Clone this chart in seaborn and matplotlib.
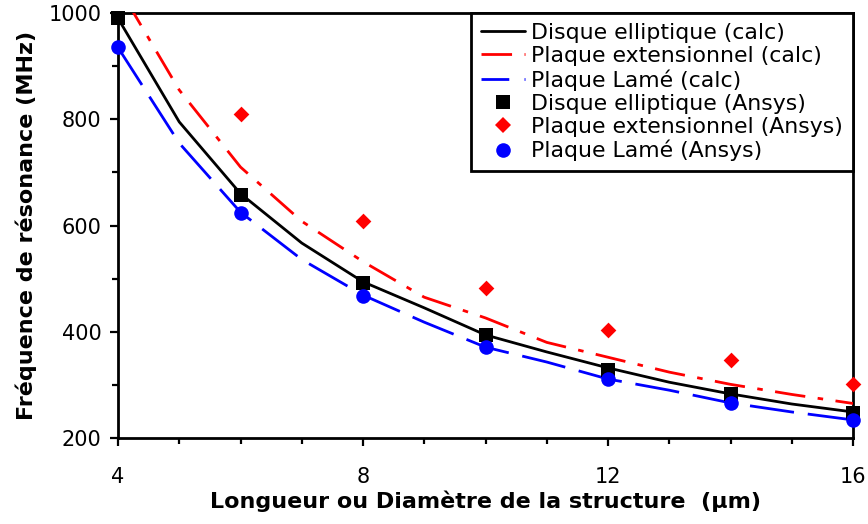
import matplotlib
matplotlib.use("Agg")
import matplotlib.pyplot as plt
from matplotlib.lines import Line2D
from matplotlib.ticker import MultipleLocator, FixedLocator
import seaborn as sns
import numpy as np

# ---- data ----
x_calc = [4, 5, 6, 7, 8, 9, 10, 11, 12, 13, 14, 15, 16]
disque_calc = [990, 795, 660, 567, 494, 445, 394, 362, 332, 305, 283, 264, 249]
plaque_ext_calc = [1050, 855, 710, 608, 532, 465, 426, 380, 352, 324, 301, 282, 265]
plaque_lame_calc = [935, 755, 625, 536, 469, 418, 371, 343, 311, 290, 266, 249, 234]

x_ansys = [4, 6, 8, 10, 12, 14, 16]
disque_ansys = [990, 657, 492, 394, 328, 283, 247]
plaque_ext_ansys = [None, 810, 608, 482, 403, 347, 302]
plaque_lame_ansys = [936, 623, 467, 371, 311, 266, 234]

labels = ["Disque elliptique (calc)", "Plaque extensionnel (calc)", "Plaque Lamé (calc)",
          "Disque elliptique (Ansys)", "Plaque extensionnel (Ansys)", "Plaque Lamé (Ansys)"]
xlabel = "Longueur ou Diamètre de la structure  (µm)"
ylabel = "Fréquence de résonance (MHz)"
x_major = [4, 8, 12, 16]
y_major = [200, 400, 600, 800, 1000]

sns.set_theme(style="white")
plt.rcParams["font.family"] = ["DejaVu Sans"]

fig = plt.figure(figsize=(8.68, 5.24), dpi=100)
ax = fig.add_axes([118 / 868, 1 - 438 / 524, (853 - 118) / 868, (438 - 13) / 524])

BLACK, RED, BLUE = "#000000", "#FF0000", "#0000FF"
LW = 2.0
ls_red = (0, (11, 4.5, 2, 4.5))
ls_blue = (0, (16, 5))
ls_blue_leg = (0, (10, 5.5))

sns.lineplot(x=x_calc, y=disque_calc, color=BLACK, lw=LW, linestyle="-", ax=ax, zorder=3)
sns.lineplot(x=x_calc, y=plaque_ext_calc, color=RED, lw=LW, linestyle=ls_red, ax=ax, zorder=3)
sns.lineplot(x=x_calc, y=plaque_lame_calc, color=BLUE, lw=LW, linestyle=ls_blue, ax=ax, zorder=3)

xe = [x for x, v in zip(x_ansys, plaque_ext_ansys) if v is not None]
ye = [v for v in plaque_ext_ansys if v is not None]
sns.scatterplot(x=x_ansys, y=disque_ansys, marker="s", s=100, color=BLACK, edgecolor=BLACK,
                linewidth=0, ax=ax, zorder=4, clip_on=False)
sns.scatterplot(x=xe, y=ye, marker="D", s=64, color=RED, edgecolor=RED,
                linewidth=0, ax=ax, zorder=4, clip_on=False)
sns.scatterplot(x=x_ansys, y=plaque_lame_ansys, marker="o", s=110, color=BLUE, edgecolor=BLUE,
                linewidth=0, ax=ax, zorder=4, clip_on=False)

ax.set_xlim(4, 16)
ax.set_ylim(200, 1000)
ax.xaxis.set_major_locator(FixedLocator(x_major))
ax.xaxis.set_minor_locator(MultipleLocator(1))
ax.yaxis.set_major_locator(FixedLocator(y_major))
ax.yaxis.set_minor_locator(MultipleLocator(100))
ax.set_xticklabels([str(v) for v in x_major])
ax.set_yticklabels([str(v) for v in y_major])

for sp in ax.spines.values():
    sp.set_visible(True)
    sp.set_color(BLACK)
    sp.set_linewidth(2.0)

ax.tick_params(axis="both", which="both", direction="out", colors=BLACK,
               bottom=True, left=True, top=False, right=False, width=1.6)
ax.tick_params(axis="both", which="major", length=6)
ax.tick_params(axis="both", which="minor", length=4.5)
ax.tick_params(axis="x", which="major", labelsize=15, pad=15)
ax.tick_params(axis="y", which="major", labelsize=15, pad=6)

ax.set_xlabel(xlabel, fontsize=16, fontweight="bold", color=BLACK)
ax.set_ylabel(ylabel, fontsize=16, fontweight="bold", color=BLACK)
ax.xaxis.set_label_coords(0.5, (438 - 491) / 425)
ax.yaxis.set_label_coords((37 - 118) / 735, 0.5)
ax.grid(False)

handles = [
    Line2D([], [], color=BLACK, lw=LW, linestyle="-"),
    Line2D([], [], color=RED, lw=LW, linestyle=ls_red),
    Line2D([], [], color=BLUE, lw=LW, linestyle=ls_blue_leg),
    Line2D([], [], color=BLACK, marker="s", markersize=10, linestyle="none", markeredgewidth=0),
    Line2D([], [], color=RED, marker="D", markersize=8, linestyle="none", markeredgewidth=0),
    Line2D([], [], color=BLUE, marker="o", markersize=10.5, linestyle="none", markeredgewidth=0),
]
leg = ax.legend(handles, labels, loc="upper right", bbox_to_anchor=(1, 1), borderaxespad=0,
                fontsize=15.8, labelspacing=0.14, handlelength=2.0, handletextpad=0.3,
                borderpad=0.45, fancybox=False, framealpha=1, edgecolor=BLACK)
leg.get_frame().set_linewidth(2.0)
leg.set_zorder(10)
for t in leg.get_texts():
    t.set_color(BLACK)

fig.savefig("out.png", dpi=100, facecolor="white")
